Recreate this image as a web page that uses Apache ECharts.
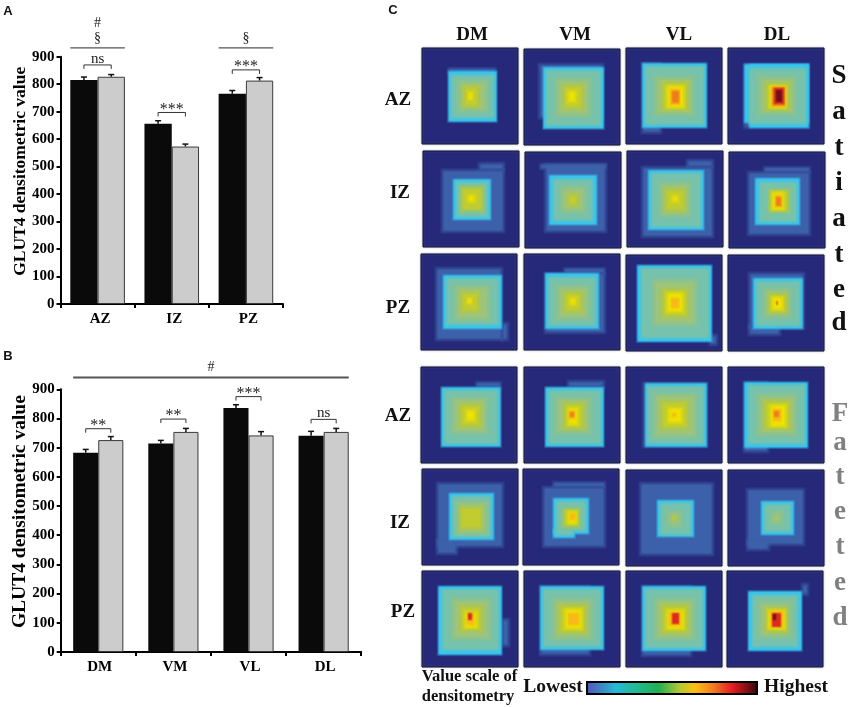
<!DOCTYPE html>
<html><head><meta charset="utf-8">
<style>html,body{margin:0;padding:0;background:#fff}#c{width:850px;height:707px}</style>
<script src="https://cdn.jsdelivr.net/npm/echarts@6/dist/echarts.min.js"></script>
</head><body><div id="c"></div>
<script>
// ---------- Data ----------
const zoneCats = ['AZ','IZ','PZ'];
const zoneBlack = [815,656,765];
const zoneGrey  = [827,573,813];
const zoneBlackErr = [826,667,777];
const zoneGreyErr  = [835,582,824];
const regionCats = ['DM','VM','VL','DL'];
const regionBlack = [683,714,836,741];
const regionGrey  = [726,754,742,754];
const regionBlackErr = [694,725,847,756];
const regionGreyErr  = [738,766,755,766];
// brackets: [category, top value, label]
const zoneBrackets = [[0,870,'ns'],[1,697,'***'],[2,852,'***']];
const regionBrackets = [[0,765,'**'],[1,798,'**'],[2,875,'***'],[3,797,'ns']];
// overhead spans: [first category, last category, value, labels from the line up]
const zoneSpans = [[0,0,932,['§','#']],[2,2,932,['§']]];
const regionSpans = [[0,3,940,['#']]];
// density panels. Each rect: [x0,y0,x1,y1,level], in panel units (0..96)
const satAZ = [
 [[26,20,74,25,1],[26,23,75,74,2],[29,27,72,70,3],[36,33,65,63,4],[41,38,57,59,5],[46,44,51,52,6]],
 [[15,15,79,69,1],[19,18,80,80,2],[22,21,77,77,3],[32,30,66,67,4],[39,36,59,60,5],[44,42,52,53,6]],
 [[16,15,35,85,1],[16,15,81,80,2],[19,18,78,77,3],[29,29,67,67,4],[36,34,62,62,5],[41,38,58,60,6],[44,41,54,57,7],[46,43,53,55,8]],
 [[16,16,81,80,1],[16,16,81,75,2],[21,16,81,80,2],[21,20,78,76,3],[31,29,67,66,4],[38,35,61,62,5],[42,38,58,60,6],[44,39,57,58,8],[46,40,56,56,9],[48,42,54,54,10]]
];
const satIZ = [
 [[19,19,81,81,1],[56,12,81,19,1],[30,28,68,69,2],[33,31,65,66,3],[38,36,60,60,5],[45,44,52,51,6]],
 [[15,12,81,17,1],[20,12,81,80,1],[24,23,72,73,2],[28,27,68,69,3],[36,35,60,60,4],[43,42,53,54,5]],
 [[15,16,86,86,1],[60,9,86,16,1],[21,19,77,79,2],[24,22,74,76,3],[33,32,63,65,4],[38,38,58,60,5],[45,45,51,51,6]],
 [[19,20,81,83,1],[35,15,81,20,1],[26,26,71,73,2],[30,30,68,70,3],[40,38,60,60,5],[43,40,55,58,6],[46,43,53,55,7],[47,45,52,54,8]]
];
const satPZ = [
 [[15,14,81,86,1],[81,69,87,86,1],[22,21,81,75,2],[25,24,78,71,3],[34,32,68,66,4],[40,38,58,58,5],[46,44,51,50,6]],
 [[21,19,81,79,1],[40,14,81,19,1],[21,19,75,75,2],[24,23,72,72,3],[33,32,65,65,4],[40,38,58,58,5],[46,44,52,51,6]],
 [[84,80,91,90,1],[11,10,86,87,2],[15,13,83,83,3],[27,25,70,70,4],[36,34,62,62,5],[41,38,57,57,6],[45,43,53,53,7]],
 [[21,18,76,74,1],[21,70,52,80,1],[25,23,75,74,2],[28,26,72,71,3],[36,34,62,62,4],[41,39,59,58,5],[44,42,55,55,6],[48,46,50,50,8]]
];
const fatAZ = [
 [[55,15,80,20,1],[20,20,80,80,2],[23,23,77,77,3],[31,31,66,66,4],[39,37,60,60,5],[45,43,54,54,6]],
 [[44,14,80,20,1],[21,20,80,80,2],[24,23,77,77,3],[32,31,66,66,4],[40,36,60,62,5],[44,41,54,58,6],[45,44,51,52,7],[46,45,50,50,8]],
 [[17,16,81,80,1],[19,16,81,80,2],[21,19,78,77,3],[28,27,70,70,4],[35,34,62,62,5],[42,41,56,56,6],[46,46,50,50,7]],
 [[16,15,40,85,1],[16,15,80,81,2],[20,18,77,77,3],[30,28,68,68,4],[36,34,62,62,5],[42,38,58,60,6],[45,42,53,54,7],[46,44,51,50,8]]
];
const fatIZ = [
 [[15,14,81,78,1],[15,70,35,85,1],[27,24,72,71,2],[30,27,69,68,3],[35,33,65,65,4],[38,38,60,60,5]],
 [[20,18,82,78,1],[30,13,82,18,1],[30,29,66,65,2],[30,60,52,69,2],[33,32,63,62,3],[33,60,50,66,3],[40,40,56,58,5],[45,42,54,55,6],[47,44,52,51,7]],
 [[14,13,87,85,1],[31,30,68,67,2],[34,33,65,65,3],[42,42,55,56,4],[46,46,50,50,5]],
 [[19,19,76,75,1],[19,70,41,80,1],[33,31,66,65,2],[36,34,63,62,3],[43,42,54,54,4]]
];
const fatPZ = [
 [[80,48,87,75,1],[16,15,80,84,2],[20,18,77,79,3],[30,28,68,68,4],[38,35,60,60,5],[43,41,55,57,6],[45,42,52,54,7],[46,42,50,49,9]],
 [[16,15,66,84,1],[16,15,80,79,2],[19,18,77,76,3],[29,28,68,68,4],[35,34,62,62,5],[41,38,58,58,6],[44,42,55,54,7]],
 [[16,15,65,85,1],[16,15,80,80,2],[19,18,77,77,3],[29,28,68,68,4],[36,34,62,62,5],[41,39,58,58,6],[43,41,55,55,7],[46,42,53,53,9]],
 [[75,13,81,24,1],[21,20,75,80,2],[25,24,71,76,3],[32,31,64,66,4],[39,37,60,61,5],[41,39,58,58,6],[43,40,56,56,7],[45,42,54,56,9],[46,43,49,49,10]]
];
const panelRows = [satAZ,satIZ,satPZ,fatAZ,fatIZ,fatPZ];
const regionHeads = ['DM','VM','VL','DL'];
const rowHeads = ['AZ','IZ','PZ','AZ','IZ','PZ'];
const satLetters = ['S','a','t','i','a','t','e','d'];
const fatLetters = ['F','a','t','e','t','e','d'];

// ---------- Layout & style ----------
const levelColors = ['#26297a','#3d60ab','#38c6ee','#76c2ac','#9cc47c','#c0cc30','#eee200','#f9b91a','#ee7b1e','#dc2a20','#6e1218'];
const levelSoft = [0,2,1.2,1.5,3,2.5,2,1.2,1.2,1,1];
const scaleStops = [[0,'#5552b4'],[0.17,'#28b8d8'],[0.3,'#22b890'],[0.42,'#20b050'],[0.55,'#b8c830'],[0.63,'#fcc010'],[0.72,'#f58a20'],[0.85,'#e81c20'],[1,'#300808']];
const panelX = [[422,524,626,728],[423,525,627,729],[421,524,626,728],[421,524,626,728],[422,523,626,728],[422,524,626,727]];
const panelY = [[48,49,48,48],[151,152,151,152],[254,254,255,255],[367,367,367,367],[469,469,470,470],[571,571,571,571]];
const serif = '"Liberation Serif","Times New Roman",serif';
const softSteps = [1,0.67,0.33,0,-0.33,-0.67,-1];
const softAlpha = [1/7,1/6,1/5,1/4,1/3,1/2,1];
const grids=[], xAxes=[], yAxes=[], series=[], graphics=[];

function barChart(o){
  const gi = grids.length;
  grids.push({left:o.left,top:o.top,width:o.width,height:o.height});
  xAxes.push({gridIndex:gi,type:'category',data:o.cats,
    axisLine:{lineStyle:{color:'#000',width:2}},axisTick:{show:true,length:4,lineStyle:{color:'#000',width:2}},
    axisLabel:{color:'#000',fontFamily:serif,fontWeight:'bold',fontSize:15,margin:8,interval:0,padding:[0,0,0,o.catPad]},splitLine:{show:false}});
  yAxes.push({gridIndex:gi,type:'value',min:0,max:900,interval:100,
    name:o.yName,nameLocation:'middle',nameGap:o.nameGap,nameRotate:90,nameMoveOverlap:false,
    nameTextStyle:{color:'#000',fontFamily:serif,fontWeight:'bold',fontSize:o.nameSize,padding:[0,0,0,18]},
    axisLine:{show:true,lineStyle:{color:'#000',width:2}},axisTick:{show:true,length:4,lineStyle:{color:'#000',width:2}},
    axisLabel:{color:'#000',fontFamily:serif,fontWeight:'bold',fontSize:15,margin:6},splitLine:{show:false}});
  const pct = o.barFrac*100+'%';
  series.push({type:'bar',name:'Satiated',xAxisIndex:gi,yAxisIndex:gi,data:o.black,barWidth:pct,barGap:'0%',
    itemStyle:{color:'#0a0a0a'}});
  series.push({type:'bar',name:'Fasted',xAxisIndex:gi,yAxisIndex:gi,data:o.grey,barWidth:pct,barGap:'0%',
    itemStyle:{color:'#cccccc',borderColor:'#3a3a3a',borderWidth:1}});
  const errData = [];
  o.blackErr.forEach((v,i)=>errData.push([i,v,o.black[i],0]));
  o.greyErr.forEach((v,i)=>errData.push([i,v,o.grey[i],1]));
  series.push({type:'custom',xAxisIndex:gi,yAxisIndex:gi,data:errData,encode:{x:0,y:1},silent:true,z:1,
    renderItem(p,api){
      const band=api.size([1,0])[0], off=(api.value(3)-0.5)*band*o.barFrac;
      const a=api.coord([api.value(0),api.value(1)]), b=api.coord([api.value(0),api.value(2)]);
      const x=a[0]+off, st={stroke:'#111',lineWidth:1.5};
      return {type:'group',children:[
        {type:'line',shape:{x1:x,y1:a[1],x2:x,y2:b[1]},style:st},
        {type:'line',shape:{x1:x-3,y1:a[1],x2:x+3,y2:a[1]},style:st}]};
    }});
  series.push({type:'custom',xAxisIndex:gi,yAxisIndex:gi,data:o.brackets.map(b=>[b[0],b[1]]),encode:{x:0,y:1},silent:true,z:3,
    renderItem(p,api){
      const band=api.size([1,0])[0], off=band*o.barFrac/2;
      const c=api.coord([api.value(0),api.value(1)]), lab=o.brackets[p.dataIndex][2];
      const st={stroke:'#333',lineWidth:1,fill:'none'};
      const star=lab!=='ns';
      return {type:'group',children:[
        {type:'polyline',shape:{points:[[c[0]-off,c[1]+4],[c[0]-off,c[1]],[c[0]+off,c[1]],[c[0]+off,c[1]+4]]},style:st},
        {type:'text',style:{text:lab,x:c[0],y:star?c[1]-3:c[1]-6,align:'center',verticalAlign:'middle',
          fontFamily:serif,fontSize:star?16:15,fill:'#222'}}]};
    }});
  series.push({type:'custom',xAxisIndex:gi,yAxisIndex:gi,data:o.spans.map(s=>[s[0],s[2],s[1]]),encode:{x:0,y:1},silent:true,z:3,
    renderItem(p,api){
      const band=api.size([1,0])[0], off=band*o.barFrac;
      const a=api.coord([api.value(0),api.value(1)]), b=api.coord([api.value(2),api.value(1)]);
      const kids=[{type:'line',shape:{x1:a[0]-off,y1:a[1],x2:b[0]+off,y2:a[1]},style:{stroke:'#555',lineWidth:o.spanWidth}}];
      o.spans[p.dataIndex][3].forEach((t,i)=>kids.push({type:'text',style:{text:t,x:(a[0]+b[0])/2,y:a[1]-10-i*15,align:'center',verticalAlign:'middle',fontFamily:serif,fontSize:14,fill:'#222'}}));
      return {type:'group',children:kids};
    }});
}
barChart({left:60.5,top:56.7,width:222.5,height:247.3,cats:zoneCats,black:zoneBlack,grey:zoneGrey,blackErr:zoneBlackErr,greyErr:zoneGreyErr,
  brackets:zoneBrackets,spans:zoneSpans,barFrac:0.368,yName:'GLUT4 densitometric value',nameSize:17.5,nameGap:31,spanWidth:1.2,catPad:5});
barChart({left:60.7,top:389.3,width:300.5,height:262.7,cats:regionCats,black:regionBlack,grey:regionGrey,blackErr:regionBlackErr,greyErr:regionGreyErr,
  brackets:regionBrackets,spans:regionSpans,barFrac:0.334,yName:'GLUT4 densitometric value',nameSize:19.5,nameGap:31,spanWidth:2,catPad:3});

panelRows.forEach((row,r)=>row.forEach((rects,c)=>{
  const gi=grids.length;
  grids.push({left:panelX[r][c],top:panelY[r][c],width:96,height:96,show:true,backgroundColor:levelColors[0],borderColor:'#101540',borderWidth:1,shadowColor:'rgba(120,120,110,0.5)',shadowBlur:2});
  xAxes.push({gridIndex:gi,type:'value',min:0,max:96,show:false});
  yAxes.push({gridIndex:gi,type:'value',min:0,max:96,inverse:true,show:false});
  series.push({type:'custom',xAxisIndex:gi,yAxisIndex:gi,data:rects,silent:true,encode:{x:[0,2],y:[1,3]},
    renderItem(p,api){
      const a=api.coord([api.value(0),api.value(1)]), b=api.coord([api.value(2),api.value(3)]);
      const lv=api.value(4), col=levelColors[lv], w=b[0]-a[0], h=b[1]-a[1];
      const k=Math.min(levelSoft[lv],Math.min(w,h)/3);
      return {type:'group',children:softSteps.map((s,i)=>{
        const e=s*k;
        return {type:'rect',shape:{x:a[0]-e,y:a[1]-e,width:w+2*e,height:h+2*e,r:1.5},style:{fill:col,opacity:softAlpha[i]}};
      })};
    }});
}));

function txt(text,x,y,size,opts){
  graphics.push({type:'text',x,y,silent:true,style:Object.assign({text,fontFamily:serif,fontWeight:'bold',fontSize:size,fill:'#111',align:'center',verticalAlign:'middle'},opts||{})});
}
const sans='"Liberation Sans",Arial,sans-serif';
txt('A',8,11,13,{fontFamily:sans});
txt('B',8,356,13,{fontFamily:sans});
txt('C',393,10,13,{fontFamily:sans});
[472,575,679,777].forEach((x,i)=>txt(regionHeads[i],x,35,19));
[100,193,308,416,523,612].forEach((y,i)=>txt(rowHeads[i],[398,400,398,398,400,403][i],y,19));
[76,112,148,183,219,255,290,323].forEach((y,i)=>txt(satLetters[i],839,y,27));
[414,443,477,512,547,583,618].forEach((y,i)=>txt(fatLetters[i],840,y,27,{fill:'#808080'}));
txt('Value scale of',469.5,677,16.5);
txt('densitometry',468,697,16.5);
txt('Lowest',553,687,19.5);
txt('Highest',796,687,19.5);
graphics.push({type:'rect',silent:true,shape:{x:587,y:682,width:170,height:12},
  style:{stroke:'#000',lineWidth:2,fill:new echarts.graphic.LinearGradient(0,0,1,0,scaleStops.map(s=>({offset:s[0],color:s[1]})))}});

const chart=echarts.init(document.getElementById('c'),null,{renderer:'canvas',width:850,height:707});
chart.setOption({animation:false,backgroundColor:'#fff',grid:grids,xAxis:xAxes,yAxis:yAxes,series,graphic:{elements:graphics},tooltip:{show:false}});
</script></body></html>
